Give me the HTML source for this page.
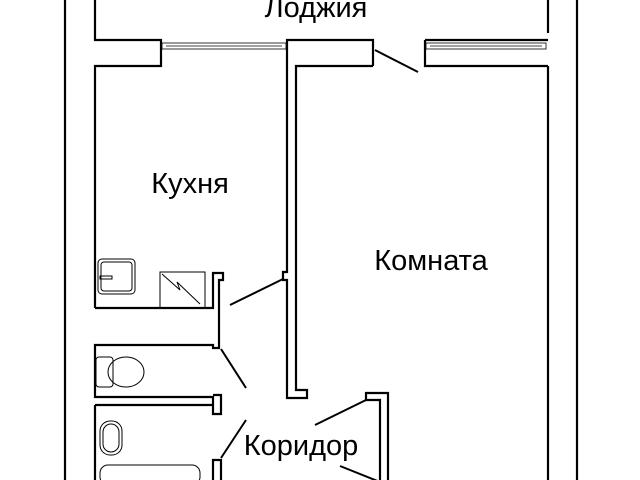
<!DOCTYPE html>
<html><head><meta charset="utf-8"><style>
html,body{margin:0;padding:0;background:#fff;width:640px;height:480px;overflow:hidden}
text{font-family:"Liberation Sans",sans-serif;fill:#000}
</style></head><body>
<svg width="640" height="480" viewBox="0 0 640 480" xmlns="http://www.w3.org/2000/svg">
<g fill="none" stroke="#000" stroke-width="2.2" stroke-linejoin="miter">
<line x1="65" y1="0" x2="65" y2="480"/>
<line x1="577" y1="0" x2="577" y2="480"/>
<line x1="548" y1="0" x2="548" y2="33"/>
<line x1="548" y1="66" x2="548" y2="480"/>
<polyline points="95,0 95,40 161,40 161,66 95,66 95,308"/>
<polyline points="373,66 373,40 287,40 287,272 283,272 283,280 287,280 287,398 307,398 307,390 296,390 296,66 373,66"/>
<polyline points="425,40 548,40"/>
<polyline points="425,40 425,66 548,66"/>
<polyline points="95,308 213,308 213,273 223,273 223,280 219,280 219,348 213,348 213,345 95,345 95,397 213,397 213,414 221,414 221,395 213,395"/>
<polyline points="95,405 213,405"/>
<line x1="95" y1="405" x2="95" y2="480"/>
<polyline points="213,480 213,460 221,460 221,480"/>
<polyline points="388,480 388,393 366,393 366,400 380,400 380,480"/>
</g>
<g fill="none" stroke="#000" stroke-width="0.8">
<rect x="162" y="43" width="124" height="6"/>
<line x1="166" y1="46" x2="282" y2="46"/>
<rect x="426" y="43" width="120" height="6"/>
<line x1="430" y1="46" x2="542" y2="46"/>
</g>
<g fill="none" stroke="#000" stroke-width="1">
<rect x="160" y="272" width="45" height="36"/>
<polyline points="162,274 180,290 177,282 200,304"/>
<rect x="98" y="259" width="37" height="35" rx="4"/>
<rect x="101" y="262" width="31" height="29" rx="3"/>
<rect x="100" y="276" width="12" height="3"/>
<rect x="96" y="357" width="17" height="30" rx="3"/>
<ellipse cx="126" cy="372" rx="18" ry="15"/>
<rect x="100" y="421" width="22" height="34" rx="10"/>
<rect x="103" y="424" width="16" height="28" rx="8"/>
<rect x="100" y="465" width="100" height="20" rx="8"/>
</g>
<g stroke="#000" stroke-width="2">
<line x1="375" y1="50" x2="418" y2="72"/>
<line x1="230" y1="305" x2="283" y2="279"/>
<line x1="221" y1="349" x2="246" y2="388"/>
<line x1="221" y1="458" x2="246" y2="420"/>
<line x1="366" y1="400" x2="315" y2="425"/>
<line x1="340" y1="466" x2="385" y2="484"/>
</g>
<text x="316" y="17" font-size="29" text-anchor="middle">Лоджия</text>
<text x="190" y="193" font-size="29" text-anchor="middle">Кухня</text>
<text x="431" y="270" font-size="29" text-anchor="middle">Комната</text>
<text x="301" y="455" font-size="29" text-anchor="middle">Коридор</text>
</svg>
</body></html>
